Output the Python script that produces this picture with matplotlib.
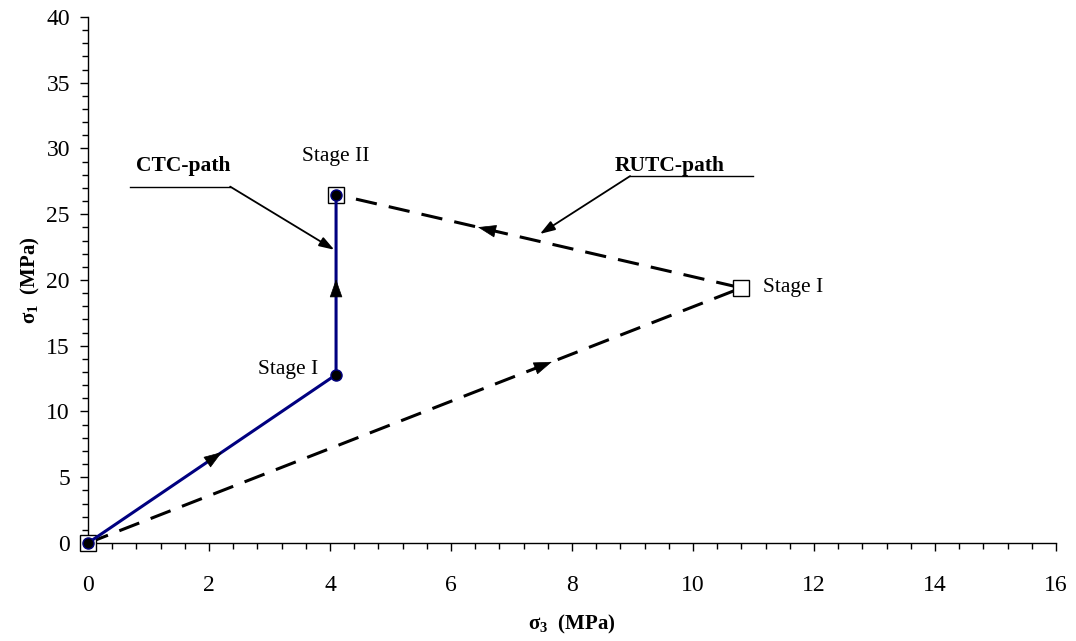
import matplotlib
matplotlib.use("Agg")
from matplotlib import pyplot as plt
from matplotlib.ticker import MultipleLocator

plt.rcParams["font.family"] = ["Liberation Serif", "DejaVu Serif"]
plt.rcParams["mathtext.fontset"] = "custom"
plt.rcParams["mathtext.rm"] = "Liberation Serif"
plt.rcParams["mathtext.bf"] = "Liberation Serif:bold"
plt.rcParams["mathtext.default"] = "bf"

# stress paths, sigma3 / sigma1 in MPa
ctc_s3 = [0, 4.1, 4.1]
ctc_s1 = [0, 12.8, 26.5]
rutc_s3 = [0, 10.8, 4.1]
rutc_s1 = [0, 19.4, 26.5]

x_ticks = [0, 2, 4, 6, 8, 10, 12, 14, 16]
y_ticks = [0, 5, 10, 15, 20, 25, 30, 35, 40]

navy = "#000080"

fig = plt.figure(figsize=(10.76, 6.41), dpi=100)
ax = fig.add_axes([0.0818, 0.1529, 0.8996, 0.8206])

# RUTC path (dashed, open squares)
ax.plot(rutc_s3, rutc_s1, color="black", lw=2.2, linestyle=(0, (7, 4)),
        marker="s", markersize=11, markerfacecolor="white",
        markeredgecolor="black", markeredgewidth=1.0, zorder=3)
# CTC path (solid navy, filled circles)
ax.plot(ctc_s3, ctc_s1, color=navy, lw=2.2, marker="o", markersize=8,
        markerfacecolor="black", markeredgecolor=navy, zorder=4)


def path_arrow(xs, ys, i, frac):
    # arrowhead placed part way along segment i of a path
    x0, y0, x1, y1 = xs[i], ys[i], xs[i + 1], ys[i + 1]
    hx, hy = x0 + frac * (x1 - x0), y0 + frac * (y1 - y0)
    tx, ty = x0 + (frac - 0.03) * (x1 - x0), y0 + (frac - 0.03) * (y1 - y0)
    ax.annotate("", xy=(hx, hy), xytext=(tx, ty),
                arrowprops=dict(arrowstyle="-|>,head_length=1.2,head_width=0.42",
                                color="black", lw=0.5, shrinkA=0, shrinkB=0),
                zorder=5)


path_arrow(ctc_s3, ctc_s1, 0, 0.54)
path_arrow(ctc_s3, ctc_s1, 1, 0.53)
path_arrow(rutc_s3, rutc_s1, 0, 0.71)
path_arrow(rutc_s3, rutc_s1, 1, 0.65)

# stage labels
ax.text(4.1, 29.4, "Stage II", fontsize=15.5, ha="center", va="center")
ax.text(11.16, 19.4, "Stage I", fontsize=15.5, ha="left", va="center")
ax.text(3.8, 13.2, "Stage I", fontsize=15.5, ha="right", va="center")

# path callouts
ax.text(1.57, 28.7, "CTC-path", fontsize=15.5, fontweight="bold",
        ha="center", va="center")
ax.plot([0.69, 2.35], [27.1, 27.1], color="black", lw=1)
ax.annotate("", xy=(4.07, 22.3), xytext=(2.35, 27.1),
            arrowprops=dict(arrowstyle="-|>,head_length=0.9,head_width=0.3",
                            color="black", lw=1.3, shrinkA=0, shrinkB=0))
ax.text(9.62, 28.7, "RUTC-path", fontsize=15.5, fontweight="bold",
        ha="center", va="center")
ax.plot([8.96, 10.99], [27.9, 27.9], color="black", lw=1)
ax.annotate("", xy=(7.47, 23.5), xytext=(8.96, 27.9),
            arrowprops=dict(arrowstyle="-|>,head_length=0.9,head_width=0.3",
                            color="black", lw=1.3, shrinkA=0, shrinkB=0))

ax.set_xlim(0, 16)
ax.set_ylim(0, 40)
ax.set_xticks(x_ticks)
ax.set_yticks(y_ticks)
ax.xaxis.set_minor_locator(MultipleLocator(0.4))
ax.yaxis.set_minor_locator(MultipleLocator(1))
ax.tick_params(which="major", direction="out", length=6, width=1,
               labelsize=17)
ax.tick_params(axis="x", which="major", pad=17)
ax.tick_params(axis="y", which="major", pad=7)
ax.tick_params(which="minor", direction="out", length=4, width=1)
ax.spines["top"].set_visible(False)
ax.spines["right"].set_visible(False)
for s in ["left", "bottom"]:
    ax.spines[s].set_linewidth(1)
for line in ax.lines:
    line.set_clip_on(False)

ax.set_xlabel(r"$\sigma_3$  (MPa)", fontsize=15, fontweight="bold", labelpad=12)
ax.set_ylabel(r"$\sigma_1$  (MPa)", fontsize=15, fontweight="bold", labelpad=3)

plt.savefig("out.png", dpi=100)
